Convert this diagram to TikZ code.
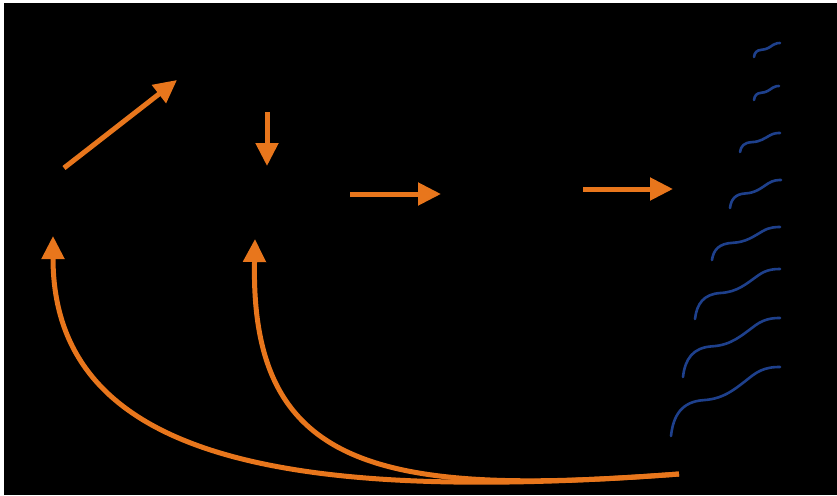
\documentclass[tikz,border=0pt]{standalone}
\usetikzlibrary{arrows.meta}
\definecolor{floworange}{RGB}{232,118,28}
\definecolor{waveblue}{RGB}{30,64,140}

\begin{document}
\begin{tikzpicture}[
  x=1pt, y=-1pt,
  >={Triangle[width=22pt,length=23pt]},
  arrow/.style={->, line width=5pt, draw=floworange, fill=floworange},
  wave/.style={line width=2.6pt, draw=waveblue, line cap=round}
]

% canvas
\fill[white] (0,0) rectangle (837,495);
\fill[black] (4,3) rectangle (837,495);
\useasboundingbox (0,0) rectangle (837,495);

% arrow ends
\coordinate (diagtail) at (64,168);
\coordinate (diaghead) at (177,80);
\coordinate (downtail) at (267,112);
\coordinate (downhead) at (267,166);
\coordinate (midtail) at (350,194);
\coordinate (midhead) at (441,194);
\coordinate (righttail) at (583,189);
\coordinate (righthead) at (673,189);
\coordinate (source) at (679,474);
\coordinate (leftin) at (53,236);
\coordinate (centerin) at (255,239);

\draw[arrow] (diagtail) -- (diaghead);
\draw[arrow] (downtail) -- (downhead);
\draw[arrow] (midtail) -- (midhead);
\draw[arrow] (righttail) -- (righthead);

% feedback curves
\draw[arrow, fill=none] (source) .. controls (300,502) and (53,465) .. (leftin);
\draw[arrow, fill=none] (source) .. controls (380,497) and (250,470) .. (centerin);

% waves
\foreach \sx/\sy/\w/\h in {754/57/26/14, 754/100/25/14, 740/152/40/19,
    730/208/51/28, 712/260/68/33, 695/319/85/50, 683/377/97/59, 671/436/109/69}
  \draw[wave, shift={(\sx,\sy)}, xscale=\w, yscale=\h]
    (0,0) .. controls (0.02,-0.3) and (0.1,-0.5) .. (0.3,-0.52)
    .. controls (0.5,-0.54) and (0.6,-0.7) .. (0.75,-0.88)
    .. controls (0.85,-1) and (0.95,-1) .. (1,-1);

\end{tikzpicture}
\end{document}
